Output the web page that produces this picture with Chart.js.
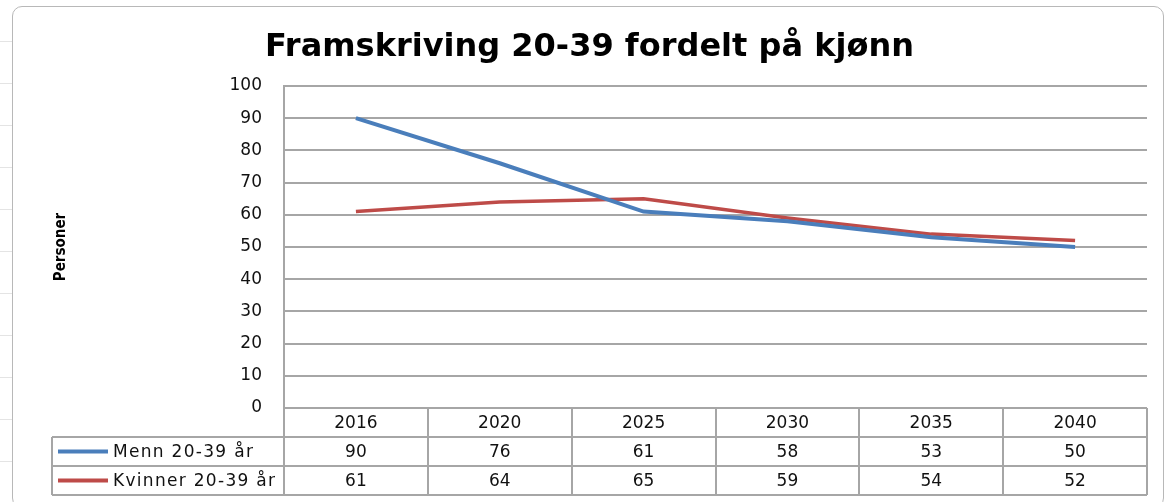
<!DOCTYPE html>
<html>
<head>
<meta charset="utf-8">
<script src="https://cdn.jsdelivr.net/npm/chart.js@4"></script>
<style>
  html, body { margin: 0; padding: 0; background: #fff; }
  #wrap { position: relative; width: 1169px; height: 502px; overflow: hidden; }
  #sheet { position: absolute; left: 0; top: 0; width: 12px; height: 502px;
           background: repeating-linear-gradient(to bottom, #fff 0 41px, #e4e4e4 41px 42px); }
  #frame { position: absolute; left: 12px; top: 6px; width: 1150px; height: 500px;
           border: 1px solid #b8b8b8; border-radius: 10px; background: #fff; }
  canvas { position: absolute; left: 0; top: 0; }
</style>
</head>
<body>
<div id="wrap">
  <div id="sheet"></div>
  <div id="frame"></div>
  <canvas id="chart" width="1169" height="502"></canvas>
</div>
<script>
const years = ['2016', '2020', '2025', '2030', '2035', '2040'];
const menn = [90, 76, 61, 58, 53, 50];
const kvinner = [61, 64, 65, 59, 54, 52];
const seriesNames = ['Menn 20-39 år', 'Kvinner 20-39 år'];
const seriesColors = ['#4a7ebb', '#be4b48'];

const gridColor = '#a6a6a6';
const textColor = '#111';
const tickFont = { family: 'DejaVu Sans', size: 17 };

// draws the data table under the plot, aligned to the category scale
const dataTable = {
    id: 'dataTable',
    afterDraw(chart) {
        const ctx = chart.ctx;
        const area = chart.chartArea;
        const xs = chart.scales.x;
        const half = (xs.getPixelForValue(1) - xs.getPixelForValue(0)) / 2;
        const rowH = 29;
        const tableLeft = 52;
        const top = area.bottom;
        const rows = chart.data.datasets;
        const bottom = top + rowH * (rows.length + 1);

        ctx.save();
        ctx.strokeStyle = gridColor;
        ctx.lineWidth = 2;
        ctx.beginPath();
        // vertical lines at category boundaries
        ctx.moveTo(area.left, top); ctx.lineTo(area.left, bottom);
        years.forEach((_, i) => {
            const bx = Math.round(xs.getPixelForValue(i) + half);
            ctx.moveTo(bx, top); ctx.lineTo(bx, bottom);
        });
        ctx.moveTo(tableLeft, top + rowH); ctx.lineTo(tableLeft, bottom);
        // horizontal row lines
        for (let r = 1; r <= rows.length + 1; r++) {
            const ly = top + rowH * r;
            ctx.moveTo(tableLeft, ly); ctx.lineTo(area.right, ly);
        }
        ctx.stroke();

        ctx.font = '17px "DejaVu Sans"';
        ctx.fillStyle = textColor;
        ctx.textBaseline = 'middle';
        rows.forEach((ds, r) => {
            const cy = top + rowH * (r + 1) + rowH / 2;
            ctx.strokeStyle = ds.borderColor;
            ctx.lineWidth = 4;
            ctx.beginPath();
            ctx.moveTo(tableLeft + 6, cy); ctx.lineTo(tableLeft + 56, cy);
            ctx.stroke();
            ctx.textAlign = 'left';
            ctx.letterSpacing = '1.3px';
            ctx.fillText(ds.label, tableLeft + 61, cy + 1);
            ctx.letterSpacing = '0px';
            ctx.textAlign = 'center';
            ds.data.forEach((v, i) => {
                ctx.fillText(String(v), xs.getPixelForValue(i), cy + 1);
            });
        });
        ctx.restore();
    }
};

new Chart(document.getElementById('chart'), {
    type: 'line',
    data: {
        labels: years,
        datasets: [
            { label: seriesNames[0], data: menn, borderColor: seriesColors[0], borderWidth: 4 },
            { label: seriesNames[1], data: kvinner, borderColor: seriesColors[1], borderWidth: 3.5 }
        ]
    },
    options: {
        responsive: false,
        animation: false,
        layout: { padding: { left: 32, top: 0, right: 22, bottom: 65 } },
        elements: { point: { radius: 0 }, line: { tension: 0 } },
        plugins: {
            legend: { display: false },
            tooltip: { enabled: false },
            title: {
                display: true,
                text: 'Framskriving 20-39 fordelt på kjønn',
                color: '#000',
                font: { family: 'DejaVu Sans', size: 32, weight: 'bold' },
                padding: { top: 28, bottom: 19.6 }
            }
        },
        scales: {
            x: {
                offset: true,
                grid: { display: false },
                border: { display: false },
                ticks: { color: textColor, font: tickFont, padding: -3, maxRotation: 0 },
                afterFit(scale) { scale.height = 29; }
            },
            y: {
                min: 0,
                max: 100,
                ticks: { stepSize: 10, color: textColor, font: tickFont, padding: 22 },
                grid: { color: gridColor, lineWidth: 2, drawTicks: false },
                border: { color: gridColor, width: 2 },
                title: {
                    display: true,
                    text: 'Personer',
                    color: '#000',
                    font: { family: '"DejaVu Sans Condensed", "Liberation Sans", sans-serif', size: 15, weight: 'bold' },
                    padding: { top: 20, bottom: 0 }
                },
                afterFit(scale) { scale.width = 252; }
            }
        }
    },
    plugins: [dataTable]
});
</script>
</body>
</html>
